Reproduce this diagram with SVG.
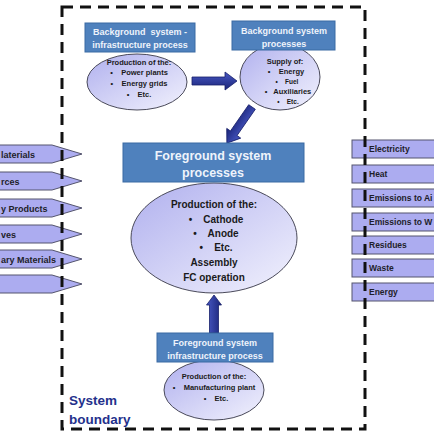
<svg xmlns="http://www.w3.org/2000/svg" width="434" height="432" viewBox="0 0 434 432">
<defs>
<linearGradient id="ell" x1="0" y1="0" x2="1" y2="1">
<stop offset="0" stop-color="#b0b0ee"/>
<stop offset="1" stop-color="#f2f2fd"/>
</linearGradient>
<linearGradient id="arr" x1="0" y1="0" x2="0" y2="1">
<stop offset="0" stop-color="#4858c4"/>
<stop offset="1" stop-color="#1a2478"/>
</linearGradient>
<linearGradient id="arrh" x1="0" y1="0" x2="1" y2="0">
<stop offset="0" stop-color="#4858c4"/>
<stop offset="1" stop-color="#1a2478"/>
</linearGradient>
<style>
.box{fill:#4f81bd;stroke:#3b6aa3;stroke-width:1}
.ell{fill:url(#ell);stroke:#4a4a5a;stroke-width:1}
.bt{font-family:"Liberation Sans",Arial,sans-serif;font-weight:bold;fill:#eef3fb;text-anchor:middle}
.et{font-family:"Liberation Sans",Arial,sans-serif;font-weight:bold;fill:#1a1a1a;text-anchor:middle}
.io{fill:#acacf0;stroke:#55556e;stroke-width:1}
.it{font-family:"Liberation Sans",Arial,sans-serif;font-weight:bold;fill:#1e1e2a;font-size:8.5px}
.il{font-family:"Liberation Sans",Arial,sans-serif;font-weight:bold;fill:#1e1e2a;font-size:9px}
.ar{fill:url(#arr);stroke:#18206a;stroke-width:0.8}
.bd{fill:none;stroke:#111;stroke-width:3;stroke-dasharray:11 7}
.sb{font-family:"Liberation Sans",Arial,sans-serif;font-weight:bold;fill:#24318c;font-size:13.5px}
</style>
</defs>

<g id="inputs">
<g id="in1"><polygon class="io" points="-2,145 52,145 82,154 52,163 -2,163"/><text class="il" x="1" y="157.5">laterials</text></g>
<g id="in2"><polygon class="io" points="-2,172 52,172 82,181 52,190 -2,190"/><text class="il" x="1" y="184.5">rces</text></g>
<g id="in3"><polygon class="io" points="-2,199 52,199 82,208 52,217 -2,217"/><text class="il" x="1" y="211.5">y Products</text></g>
<g id="in4"><polygon class="io" points="-2,225 52,225 82,234 52,243 -2,243"/><text class="il" x="1" y="237.5">ves</text></g>
<g id="in5"><polygon class="io" points="-2,250 52,250 82,259 52,268 -2,268"/><text class="il" x="1" y="262.5">ary Materials</text></g>
<g id="in6"><polygon class="io" points="-2,275 52,275 82,284 52,293 -2,293"/></g>
</g>

<g id="outputs">
<g id="out1"><rect class="io" x="352" y="140" width="90" height="18"/><text class="it" x="369" y="152">Electricity</text></g>
<g id="out2"><rect class="io" x="352" y="165" width="90" height="18"/><text class="it" x="369" y="177">Heat</text></g>
<g id="out3"><rect class="io" x="352" y="189" width="90" height="18"/><text class="it" x="369" y="201">Emissions to Ai</text></g>
<g id="out4"><rect class="io" x="352" y="213" width="90" height="18"/><text class="it" x="369" y="225">Emissions to W</text></g>
<g id="out5"><rect class="io" x="352" y="236" width="90" height="18"/><text class="it" x="369" y="248">Residues</text></g>
<g id="out6"><rect class="io" x="352" y="259" width="90" height="18"/><text class="it" x="369" y="271">Waste</text></g>
<g id="out7"><rect class="io" x="352" y="283" width="90" height="18"/><text class="it" x="369" y="295">Energy</text></g>
</g>

<g id="boundary">
<rect class="bd" x="62" y="7" width="303" height="422"/>
<text class="sb" x="69" y="405">System</text>
<text class="sb" x="69" y="424">boundary</text>
</g>

<g id="connectors">
<polygon fill="url(#arr)" stroke="#18206a" stroke-width="0.8" points="192,77 225,77 225,72 237,81 225,90 225,85 192,85"/>
<polygon class="ar" transform="translate(252,107) rotate(124.8)" points="0,-4 32,-4 32,-8.5 44,0 32,8.5 32,4 0,4"/>
<polygon fill="url(#arrh)" stroke="#18206a" stroke-width="0.8" points="209.5,333 209.5,305 206.5,305 214,295 221.5,305 218.5,305 218.5,333"/>
</g>

<g id="bg-infra">
<ellipse class="ell" cx="137" cy="82" rx="50" ry="28"/>
<rect class="box" x="85" y="23" width="110" height="29"/>
<text class="bt" x="140" y="35" font-size="9">Background&#160; system -</text>
<text class="bt" x="140" y="48" font-size="9">infrastructure process</text>
<text class="et" x="139" y="65" font-size="7.5">Production of the:</text>
<text class="et" x="139" y="75" font-size="7.5">•&#160;&#160;&#160; Power plants</text>
<text class="et" x="139" y="86" font-size="7.5">•&#160;&#160;&#160; Energy grids</text>
<text class="et" x="139" y="97" font-size="7.5">•&#160;&#160;&#160; Etc.</text>
</g>

<g id="bg-proc">
<ellipse class="ell" cx="280" cy="77" rx="40" ry="33"/>
<rect class="box" x="232" y="21" width="103" height="29"/>
<text class="bt" x="284" y="34" font-size="9">Background system</text>
<text class="bt" x="284" y="47" font-size="9">processes</text>
<text class="et" x="285" y="64" font-size="7.5">Supply of:</text>
<text class="et" x="286" y="74" font-size="7.5">•&#160;&#160;&#160; Energy</text>
<text class="et" x="287" y="84" font-size="6.5">•&#160;&#160;&#160; Fuel</text>
<text class="et" x="288" y="94" font-size="7.5">•&#160;&#160; Auxiliaries</text>
<text class="et" x="288" y="104" font-size="6.5">•&#160;&#160;&#160; Etc.</text>
</g>

<g id="fg-proc">
<ellipse class="ell" cx="214" cy="238" rx="83" ry="55"/>
<rect class="box" x="123" y="143" width="181" height="39"/>
<text class="bt" x="213" y="160" font-size="12.5">Foreground system</text>
<text class="bt" x="213" y="177" font-size="12.5">processes</text>
<text class="et" x="214" y="208" font-size="10">Production of the:</text>
<text class="et" x="216" y="223" font-size="10">•&#160;&#160;&#160; Cathode</text>
<text class="et" x="216" y="237" font-size="10">•&#160;&#160;&#160; Anode</text>
<text class="et" x="216" y="251" font-size="10">•&#160;&#160;&#160; Etc.</text>
<text class="et" x="214" y="266" font-size="10">Assembly</text>
<text class="et" x="214" y="281" font-size="10">FC operation</text>
</g>

<g id="fg-infra">
<ellipse class="ell" cx="214" cy="390" rx="50" ry="30"/>
<rect class="box" x="157" y="333" width="116" height="29"/>
<text class="bt" x="215" y="346" font-size="9">Foreground system</text>
<text class="bt" x="215" y="359" font-size="9">infrastructure process</text>
<text class="et" x="214" y="379" font-size="7.5">Production of the:</text>
<text class="et" x="214" y="390" font-size="7.5">•&#160;&#160;&#160; Manufacturing plant</text>
<text class="et" x="216" y="401" font-size="7.5">•&#160;&#160;&#160; Etc.</text>
</g>
</svg>
